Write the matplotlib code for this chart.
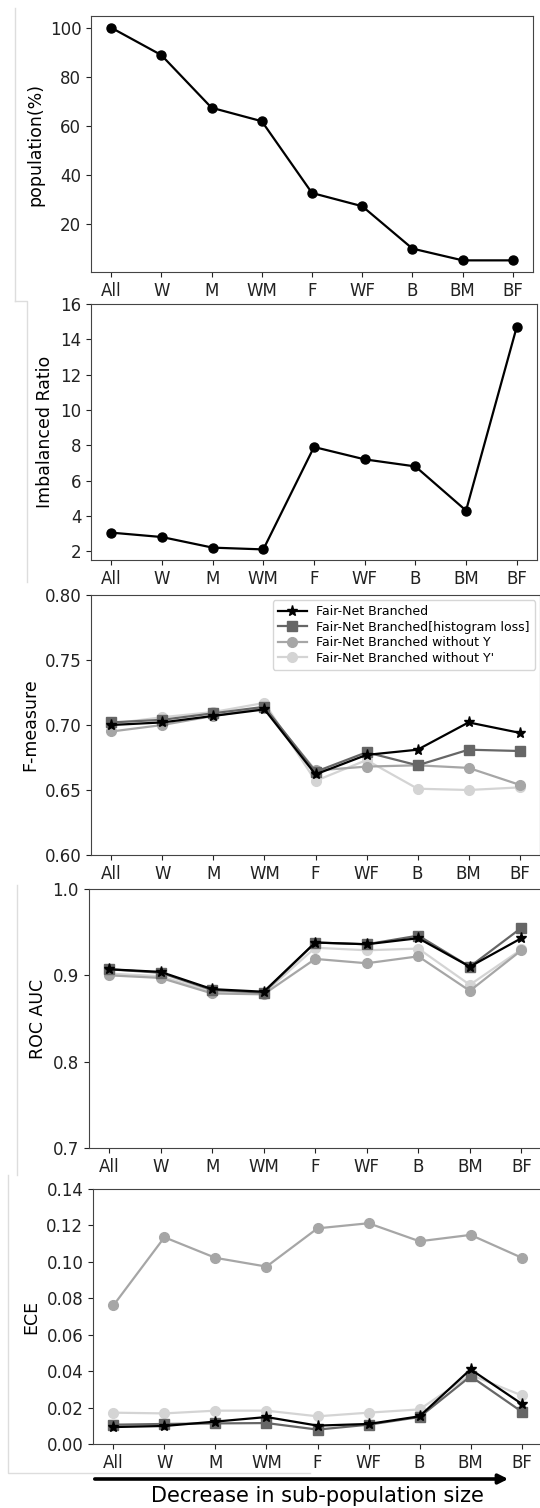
import matplotlib
matplotlib.use('Agg')
import matplotlib.pyplot as plt
from matplotlib.lines import Line2D

groups = ['All', 'W', 'M', 'WM', 'F', 'WF', 'B', 'BM', 'BF']

population = [100, 88.8, 67.3, 61.8, 32.5, 27.1, 9.8, 5.0, 5.0]
imbalance = [3.05, 2.8, 2.2, 2.1, 7.9, 7.2, 6.8, 4.3, 14.7]

names = ['Fair-Net Branched', 'Fair-Net Branched[histogram loss]',
         'Fair-Net Branched without Y', "Fair-Net Branched without Y'"]

f_branched = [0.700, 0.702, 0.707, 0.712, 0.662, 0.677, 0.681, 0.702, 0.694]
f_hist = [0.702, 0.704, 0.709, 0.714, 0.664, 0.679, 0.669, 0.681, 0.680]
f_no_y = [0.695, 0.700, 0.707, 0.713, 0.665, 0.668, 0.669, 0.667, 0.654]
f_no_yp = [0.701, 0.706, 0.710, 0.717, 0.657, 0.673, 0.651, 0.650, 0.652]

roc_branched = [0.907, 0.904, 0.884, 0.881, 0.938, 0.936, 0.943, 0.910, 0.943]
roc_hist = [0.907, 0.903, 0.883, 0.880, 0.938, 0.936, 0.946, 0.910, 0.955]
roc_no_y = [0.900, 0.897, 0.879, 0.878, 0.919, 0.914, 0.922, 0.882, 0.929]
roc_no_yp = [0.902, 0.899, 0.881, 0.879, 0.932, 0.929, 0.931, 0.889, 0.930]

ece_branched = [0.0093, 0.0099, 0.0123, 0.0148, 0.0101, 0.0110, 0.0152, 0.0410, 0.0221]
ece_hist = [0.0106, 0.0110, 0.0113, 0.0115, 0.0079, 0.0106, 0.0148, 0.0372, 0.0178]
ece_no_y = [0.0761, 0.1135, 0.1022, 0.0974, 0.1184, 0.1212, 0.1113, 0.1148, 0.1023]
ece_no_yp = [0.0172, 0.0168, 0.0183, 0.0183, 0.0152, 0.0172, 0.0190, 0.0380, 0.0267]

colors = ['black', '#666666', '#a6a6a6', '#d4d4d4']
markers = ['*', 's', 'o', 'o']

W, H = 540, 1508
fig = plt.figure(figsize=(W/100, H/100), dpi=100)

def rect(l, r, t, b):
    return [l/W, 1-b/H, (r-l)/W, (b-t)/H]

def style(ax, ylabel):
    ax.set_xticks(range(len(groups)))
    ax.set_xticklabels(groups)
    ax.set_xlim(-0.4, len(groups)-0.6)
    ax.tick_params(labelsize=12, colors='#222222')
    ax.set_ylabel(ylabel, fontsize=12.5)
    for s in ax.spines.values():
        s.set_color('#444444')

ax1 = fig.add_axes(rect(91, 533, 16, 272))
ax1.plot(groups, population, 'o-', color='black', lw=1.6, ms=6.5)
style(ax1, 'population(%)')
ax1.set_ylim(0.25, 104.75)
ax1.set_yticks([20, 40, 60, 80, 100])

ax2 = fig.add_axes(rect(91, 537, 304, 560))
ax2.plot(groups, imbalance, 'o-', color='black', lw=1.6, ms=6.5)
style(ax2, 'Imbalanced Ratio')
ax2.set_ylim(1.5, 16)
ax2.set_yticks([2, 4, 6, 8, 10, 12, 14, 16])

def multi(ax, series):
    # draw the lightest series first so the black one sits on top
    for i in [3, 2, 1, 0]:
        ms = 8 if markers[i] == '*' else 7
        ax.plot(groups, series[i], marker=markers[i], color=colors[i],
                lw=1.6, ms=ms, label=names[i], zorder=3+(3-i))

ax3 = fig.add_axes(rect(91, 540, 595, 855))
multi(ax3, [f_branched, f_hist, f_no_y, f_no_yp])
style(ax3, 'F-measure')
ax3.set_ylim(0.6, 0.8)
ax3.set_yticks([0.60, 0.65, 0.70, 0.75, 0.80])
ax3.set_yticklabels(['0.60', '0.65', '0.70', '0.75', '0.80'])
hs, ls = ax3.get_legend_handles_labels()
ax3.legend(hs[::-1], ls[::-1], loc='upper right', fontsize=9,
           labelspacing=0.2, handlelength=2.3, borderaxespad=0.4)

ax4 = fig.add_axes(rect(88.5, 542, 889, 1148))
multi(ax4, [roc_branched, roc_hist, roc_no_y, roc_no_yp])
style(ax4, 'ROC AUC')
ax4.set_ylim(0.7, 1.0)
ax4.set_yticks([0.7, 0.8, 0.9, 1.0])
ax4.set_yticklabels(['0.7', '0.8', '0.9', '1.0'])

ax5 = fig.add_axes(rect(93, 542, 1189, 1444))
multi(ax5, [ece_branched, ece_hist, ece_no_y, ece_no_yp])
style(ax5, 'ECE')
ax5.set_ylim(0, 0.14)
ax5.set_yticks([0, 0.02, 0.04, 0.06, 0.08, 0.10, 0.12, 0.14])
ax5.set_yticklabels(['0.00', '0.02', '0.04', '0.06', '0.08', '0.10', '0.12', '0.14'])

# arrow and caption under the last panel
fig.add_artist(matplotlib.patches.FancyArrowPatch(
    (92/W, 1-1479/H), (511/W, 1-1479/H), transform=fig.transFigure,
    arrowstyle='-|>', mutation_scale=14, lw=2.6, color='black'))
fig.text(317/W, 1-1496/H, 'Decrease in sub-population size',
         ha='center', va='center', fontsize=15)

# thin frame lines left over from the composed figure
def fline(xs, ys):
    fig.add_artist(Line2D([x/W for x in xs], [1-y/H for y in ys],
                          transform=fig.transFigure, color='#dddddd', lw=1))

fline([14.5, 14.5], [8, 301])
fline([14.5, 27, 27], [301, 301, 582])
fline([16.5, 16.5], [885, 1175])
fline([8, 8, 310], [1175, 1473, 1473])

fig.savefig('out.png', dpi=100)
